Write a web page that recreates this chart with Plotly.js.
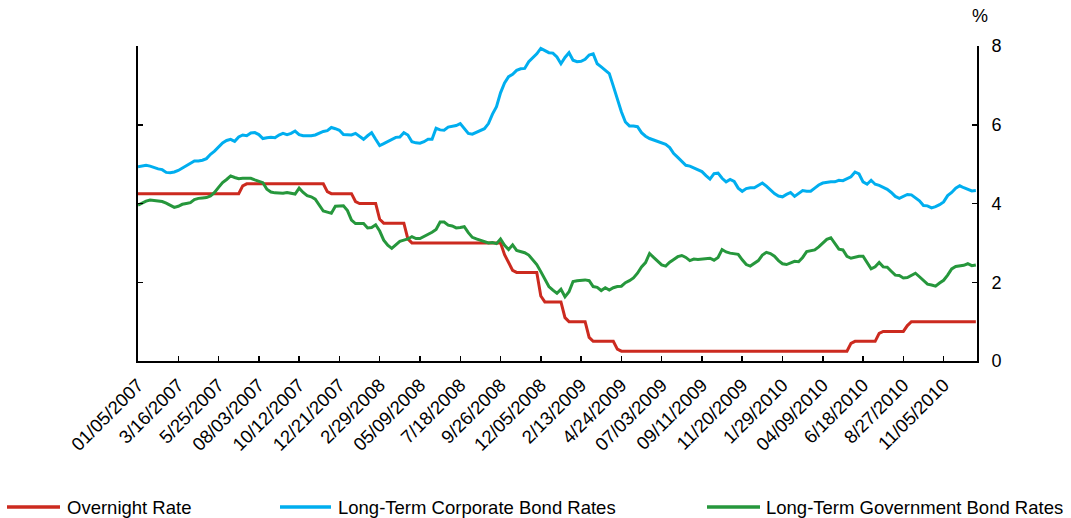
<!DOCTYPE html>
<html>
<head>
<meta charset="utf-8">
<script src="https://cdn.plot.ly/plotly-3.0.1.min.js"></script>
<style>
  html, body { margin: 0; padding: 0; background: #fff; }
  #chart { width: 1071px; height: 518px; }
</style>
</head>
<body>
<div id="chart"></div>
<script>
// Weekly observations starting 01/05/2007 (209 weeks)
const startDate = '2007-01-05';
const weekCount = 209;

const tickDates = ['2007-01-05','2007-03-16','2007-05-25','2007-08-03','2007-10-12','2007-12-21',
  '2008-02-29','2008-05-09','2008-07-18','2008-09-26','2008-12-05','2009-02-13','2009-04-24',
  '2009-07-03','2009-09-11','2009-11-20','2010-01-29','2010-04-09','2010-06-18','2010-08-27','2010-11-05'];
const tickLabels = ['01/05/2007','3/16/2007','5/25/2007','08/03/2007','10/12/2007','12/21/2007',
  '2/29/2008','05/09/2008','7/18/2008','9/26/2008','12/05/2008','2/13/2009','4/24/2009',
  '07/03/2009','09/11/2009','11/20/2009','1/29/2010','04/09/2010','6/18/2010','8/27/2010','11/05/2010'];

const overnightRate = [
  4.25,4.25,4.25,4.25,4.25,4.25,4.25,4.25,4.25,4.25,
  4.25,4.25,4.25,4.25,4.25,4.25,4.25,4.25,4.25,4.25,
  4.25,4.25,4.25,4.25,4.25,4.25,4.45,4.5,4.5,4.5,
  4.5,4.5,4.5,4.5,4.5,4.5,4.5,4.5,4.5,4.5,
  4.5,4.5,4.5,4.5,4.5,4.5,4.5,4.3,4.25,4.25,
  4.25,4.25,4.25,4.25,4.05,4.0,4.0,4.0,4.0,4.0,
  3.6,3.5,3.5,3.5,3.5,3.5,3.5,3.1,3.0,3.0,
  3.0,3.0,3.0,3.0,3.0,3.0,3.0,3.0,3.0,3.0,
  3.0,3.0,3.0,3.0,3.0,3.0,3.0,3.0,3.0,3.0,
  3.0,2.7,2.5,2.3,2.25,2.25,2.25,2.25,2.25,2.25,
  1.65,1.5,1.5,1.5,1.5,1.5,1.1,1.0,1.0,1.0,
  1.0,1.0,0.6,0.5,0.5,0.5,0.5,0.5,0.5,0.3,
  0.25,0.25,0.25,0.25,0.25,0.25,0.25,0.25,0.25,0.25,
  0.25,0.25,0.25,0.25,0.25,0.25,0.25,0.25,0.25,0.25,
  0.25,0.25,0.25,0.25,0.25,0.25,0.25,0.25,0.25,0.25,
  0.25,0.25,0.25,0.25,0.25,0.25,0.25,0.25,0.25,0.25,
  0.25,0.25,0.25,0.25,0.25,0.25,0.25,0.25,0.25,0.25,
  0.25,0.25,0.25,0.25,0.25,0.25,0.25,0.45,0.5,0.5,
  0.5,0.5,0.5,0.5,0.7,0.75,0.75,0.75,0.75,0.75,
  0.75,0.9,1.0,1.0,1.0,1.0,1.0,1.0,1.0,1.0,
  1.0,1.0,1.0,1.0,1.0,1.0,1.0,1.0,1.0
];

const corporateBond = [
  4.93,4.95,4.97,4.95,4.91,4.88,4.86,4.79,4.78,4.80,
  4.84,4.90,4.97,5.04,5.08,5.08,5.10,5.14,5.25,5.33,
  5.44,5.54,5.60,5.63,5.58,5.69,5.74,5.72,5.79,5.80,
  5.75,5.65,5.67,5.68,5.67,5.74,5.78,5.75,5.78,5.84,
  5.75,5.72,5.72,5.72,5.74,5.79,5.83,5.85,5.93,5.90,
  5.86,5.75,5.74,5.74,5.78,5.70,5.63,5.72,5.80,5.63,
  5.47,5.52,5.58,5.63,5.68,5.69,5.80,5.74,5.57,5.54,
  5.53,5.57,5.63,5.63,5.91,5.87,5.86,5.94,5.96,5.98,
  6.03,5.89,5.78,5.76,5.81,5.86,5.90,6.03,6.27,6.46,
  6.81,7.06,7.22,7.28,7.38,7.42,7.43,7.60,7.70,7.80,
  7.94,7.89,7.83,7.82,7.72,7.55,7.71,7.83,7.64,7.60,
  7.61,7.66,7.77,7.80,7.55,7.47,7.39,7.30,6.98,6.64,
  6.33,6.07,5.97,5.97,5.95,5.80,5.71,5.65,5.61,5.58,
  5.54,5.50,5.42,5.27,5.17,5.06,4.97,4.95,4.91,4.86,
  4.81,4.71,4.62,4.76,4.77,4.64,4.55,4.61,4.56,4.39,
  4.31,4.38,4.40,4.40,4.46,4.52,4.44,4.34,4.25,4.19,
  4.17,4.23,4.28,4.18,4.26,4.33,4.31,4.31,4.39,4.47,
  4.52,4.54,4.55,4.55,4.59,4.58,4.62,4.68,4.80,4.75,
  4.55,4.49,4.59,4.49,4.46,4.42,4.36,4.28,4.18,4.13,
  4.19,4.23,4.22,4.15,4.07,3.95,3.94,3.89,3.92,3.97,
  4.04,4.20,4.28,4.39,4.45,4.40,4.35,4.32,4.33
];

const governmentBond = [
  3.96,4.02,4.06,4.09,4.08,4.06,4.05,4.01,3.95,3.90,
  3.93,3.98,4.00,4.02,4.10,4.13,4.14,4.15,4.19,4.28,
  4.41,4.53,4.61,4.70,4.66,4.63,4.64,4.64,4.64,4.60,
  4.57,4.53,4.36,4.29,4.27,4.27,4.26,4.28,4.26,4.24,
  4.39,4.28,4.20,4.17,4.11,3.96,3.81,3.78,3.75,3.93,
  3.94,3.94,3.82,3.58,3.49,3.49,3.49,3.38,3.39,3.46,
  3.30,3.07,2.94,2.86,2.96,3.04,3.07,3.10,3.16,3.11,
  3.11,3.16,3.21,3.27,3.34,3.53,3.53,3.45,3.43,3.38,
  3.39,3.41,3.26,3.14,3.10,3.07,3.04,3.00,3.01,2.98,
  3.10,2.94,2.83,2.95,2.81,2.78,2.75,2.69,2.56,2.45,
  2.27,2.06,1.89,1.80,1.72,1.82,1.63,1.76,2.02,2.04,
  2.05,2.06,2.04,1.89,1.87,1.79,1.86,1.80,1.86,1.89,
  1.90,1.99,2.04,2.11,2.23,2.39,2.50,2.73,2.63,2.53,
  2.44,2.41,2.51,2.58,2.65,2.68,2.63,2.55,2.59,2.58,
  2.59,2.59,2.61,2.56,2.63,2.83,2.77,2.74,2.72,2.71,
  2.57,2.45,2.41,2.47,2.55,2.69,2.76,2.73,2.66,2.55,
  2.47,2.45,2.49,2.53,2.52,2.63,2.78,2.80,2.82,2.90,
  2.99,3.09,3.13,2.99,2.84,2.82,2.66,2.61,2.64,2.66,
  2.66,2.50,2.34,2.39,2.50,2.39,2.38,2.28,2.18,2.17,
  2.11,2.12,2.17,2.23,2.14,2.04,1.95,1.93,1.90,1.98,
  2.05,2.18,2.34,2.40,2.41,2.43,2.47,2.42,2.44
];

const seriesNames = ['Overnight Rate','Long-Term Corporate Bond Rates','Long-Term Government Bond Rates'];
const seriesColors = ['#CC2A1F','#00AEEF','#26973C'];

// weekly date categories
const weekDates = [];
{
  const t0 = Date.parse(startDate + 'T00:00:00Z');
  for (let i = 0; i < weekCount; i++) {
    weekDates.push(new Date(t0 + i * 7 * 86400000).toISOString().slice(0, 10));
  }
}

const seriesValues = [overnightRate, corporateBond, governmentBond];
const traces = seriesValues.map((vals, i) => ({
  type: 'scatter', mode: 'lines', x: weekDates, y: vals, name: seriesNames[i],
  line: { color: seriesColors[i], width: 3 }, hoverinfo: 'x+y+name'
}));

// Plot area geometry (px) used to position the hand-made legend
const plotL = 138, plotR = 977, plotT = 46, plotB = 361;
const W = 1071, H = 518;
const px2x = p => (p - plotL) / (plotR - plotL);
const py2y = p => (plotB - p) / (plotB - plotT);

const legendItems = [
  { x0: 7, x1: 60, tx: 66 },
  { x0: 280, x1: 331, tx: 337 },
  { x0: 707, x1: 760, tx: 765 }
];
const legendY = 507;
const shapes = legendItems.map((it, i) => ({
  type: 'line', xref: 'paper', yref: 'paper',
  x0: px2x(it.x0), x1: px2x(it.x1), y0: py2y(legendY), y1: py2y(legendY),
  line: { color: seriesColors[i], width: 3.5 }
}));
const annotations = legendItems.map((it, i) => ({
  xref: 'paper', yref: 'paper', x: px2x(it.tx), y: py2y(legendY),
  xanchor: 'left', yanchor: 'middle', showarrow: false, text: seriesNames[i],
  font: { size: 18.5, color: '#000' }, borderpad: 0
}));
annotations.push({
  xref: 'paper', yref: 'paper', x: px2x(980), y: py2y(16),
  xanchor: 'center', yanchor: 'middle', showarrow: false, text: '%',
  font: { size: 18, color: '#000' }
});

const layout = {
  width: W, height: H,
  margin: { l: plotL, r: W - plotR, t: plotT, b: H - plotB },
  paper_bgcolor: '#fff', plot_bgcolor: '#fff',
  showlegend: false,
  font: { family: 'Liberation Sans, Arial, sans-serif', size: 18, color: '#000' },
  xaxis: {
    type: 'date', range: ['2007-01-05', '2011-01-02'],
    tickmode: 'array', tickvals: tickDates, ticktext: tickLabels,
    tickangle: -45, ticks: 'inside', ticklen: 5, tickwidth: 1.5, tickcolor: '#000',
    showline: true, linecolor: '#000', linewidth: 2, ticklabelstandoff: 4,
    showgrid: false, zeroline: false, tickfont: { size: 18.5, color: '#000' }
  },
  yaxis: {
    side: 'right', range: [0, 8], tickmode: 'linear', tick0: 0, dtick: 2,
    ticks: 'inside', ticklen: 5, tickwidth: 1.5, tickcolor: '#000',
    showline: true, linecolor: '#000', linewidth: 2, mirror: 'ticks',
    showgrid: false, zeroline: false, ticklabelstandoff: 9,
    tickfont: { size: 18, color: '#000' }
  },
  shapes: shapes,
  annotations: annotations
};

Plotly.newPlot('chart', traces, layout, { displayModeBar: false, staticPlot: true });
</script>
</body>
</html>
